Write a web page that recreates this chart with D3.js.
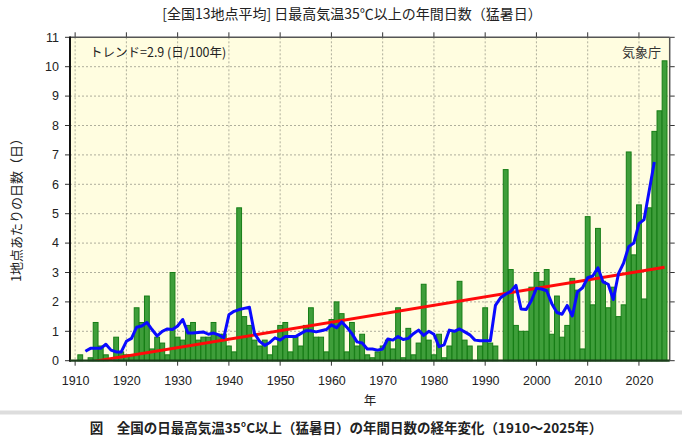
<!DOCTYPE html>
<html lang="ja">
<head>
<meta charset="utf-8">
<script src="https://cdn.jsdelivr.net/npm/d3@7"></script>
<style>
  body { margin: 0; background: #fff; }
  svg { display: block; }
</style>
</head>
<body>
<div id="chart"></div>
<script>
/* Annual number of days with max temperature >= 35C, 13-station average */
const firstYear = 1910;
const days = [
  0, 0.2, 0, 0.1, 1.3, 0.5, 0.2, 0, 0.8, 0.3,
  0.2, 0.2, 1.8, 1.3, 2.2, 0.4, 0.8, 0.6, 0.2, 3.0,
  0.8, 0.7, 1.2, 1.3, 0.7, 0.8, 0.8, 1.3, 0.9, 0.9,
  0.5, 0.3, 5.2, 1.5, 1.2, 0.7, 0.5, 0.7, 0.2, 0.5,
  1.2, 1.3, 0.3, 0.8, 0.5, 1.2, 1.8, 0.8, 0.8, 0.3,
  1.4, 2.0, 1.6, 0.3, 1.3, 0.5, 0.9, 0.2, 0.1, 0.3,
  0.5, 0.7, 0.4, 1.8, 0.1, 1.1, 0.2, 0.6, 2.6, 0.7,
  0.2, 0.9, 0.1, 0.5, 1.0, 2.7, 0.7, 0.5, 0, 0.5,
  1.8, 0.6, 0.5, 0, 6.5, 3.1, 1.2, 1.0, 1.0, 2.5,
  3.0, 2.7, 3.1, 0.9, 2.2, 0.8, 1.2, 2.8, 2.4, 0.4,
  4.9, 1.9, 4.5, 2.7, 1.8, 2.5, 1.5, 1.9, 7.1, 3.6,
  5.3, 2.1, 5.2, 7.8, 8.5, 10.2
];

// 5-year running mean (blue line), 1912-2023
const meanFirstYear = 1912;
const runningMean = [
  0.32, 0.42, 0.42, 0.42, 0.56, 0.36, 0.30, 0.30,
  0.66, 0.76, 1.14, 1.18, 1.30, 1.06, 0.84, 1.00, 1.08, 1.06,
  1.18, 1.40, 0.94, 0.94, 0.96, 0.98, 0.90, 0.94, 0.88, 0.78,
  1.56, 1.68, 1.74, 1.78, 1.82, 0.92, 0.66, 0.52, 0.62, 0.78,
  0.70, 0.82, 0.82, 0.82, 0.92, 1.02, 1.02, 0.98, 1.02, 1.06,
  1.22, 1.12, 1.32, 1.14, 0.92, 0.64, 0.60, 0.40, 0.40, 0.36,
  0.40, 0.74, 0.70, 0.82, 0.72, 0.76, 0.92, 1.04, 0.86, 1.00,
  0.90, 0.48, 0.54, 1.04, 1.00, 1.08, 0.98, 0.88, 0.70, 0.68,
  0.68, 0.68, 1.88, 2.14, 2.26, 2.36, 2.56, 1.76, 1.74, 2.04,
  2.46, 2.44, 2.38, 1.94, 1.64, 1.58, 1.88, 1.52, 2.34, 2.48,
  2.82, 2.88, 3.16, 2.68, 2.60, 2.08, 2.96, 3.32, 3.88, 4.00,
  4.66, 4.80, 5.78, 6.76
];

// Linear trend (red line) end points
const trendYears = [1910, 2025];
const trendValues = [-0.13, 3.18];

const xTicks = [1910, 1920, 1930, 1940, 1950, 1960, 1970, 1980, 1990, 2000, 2010, 2020];
const yTicks = [0, 1, 2, 3, 4, 5, 6, 7, 8, 9, 10, 11];

const title = "[全国13地点平均] 日最高気温35℃以上の年間日数（猛暑日）";
const trendLabel = "トレンド=2.9 (日/100年)";
const sourceLabel = "気象庁";
const xLabel = "年";
const yLabel = "1地点あたりの日数（日）";
const caption = "図　全国の日最高気温35°C以上（猛暑日）の年間日数の経年変化（1910～2025年）";

/* Set the dimensions and margins */
const width = 682, height = 444;
const margins = {top: 37.3, right: 12.3, bottom: 83.3, left: 70};
const jp = "'Noto Sans CJK JP', 'Noto Sans', sans-serif";
const num = "'Liberation Sans', Arial, sans-serif";

const svg = d3.select("#chart")
  .append("svg")
    .attr("width", width)
    .attr("height", height)
    .attr("viewBox", [0, 0, width, height]);

const xScale = d3.scaleLinear()
  .domain([1909, 2026])
  .range([margins.left, width - margins.right]);

const yScale = d3.scaleLinear()
  .domain([0, 11])
  .range([height - margins.bottom, margins.top]);

const x0 = xScale.range()[0], x1 = xScale.range()[1];
const y0 = yScale.range()[0], y1 = yScale.range()[1];

// plot background
svg.append("rect")
  .attr("x", x0).attr("y", y1)
  .attr("width", x1 - x0).attr("height", y0 - y1)
  .attr("fill", "#fffde0");

svg.append("clipPath").attr("id", "plot-clip")
  .append("rect")
    .attr("x", x0).attr("y", y1)
    .attr("width", x1 - x0).attr("height", y0 - y1);

/* Grid lines */
const grid = svg.append("g")
  .attr("stroke", "#9a9a8a")
  .attr("stroke-width", 0.8)
  .attr("stroke-dasharray", "2,2");

grid.selectAll(".gy")
  .data(yTicks.slice(1, -1))
  .join("line")
    .attr("x1", x0).attr("x2", x1)
    .attr("y1", d => yScale(d)).attr("y2", d => yScale(d));

grid.selectAll(".gx")
  .data(xTicks)
  .join("line")
    .attr("x1", d => xScale(d)).attr("x2", d => xScale(d))
    .attr("y1", y1).attr("y2", y0);

/* Bars */
const bw = xScale(1910.47) - xScale(1910);
svg.append("g")
  .attr("class", "bars")
  .selectAll("rect")
  .data(days.map((v, i) => ({year: firstYear + i, value: v})).filter(d => d.value > 0))
  .join("rect")
    .attr("x", d => xScale(d.year) - bw)
    .attr("y", d => yScale(d.value))
    .attr("width", bw * 2)
    .attr("height", d => yScale(0) - yScale(d.value))
    .attr("fill", "#3e9e3a")
    .attr("stroke", "#167d16")
    .attr("stroke-width", 1);

/* Trend and running mean */
const line = d3.line()
  .x(d => xScale(d[0]))
  .y(d => yScale(d[1]));

svg.append("path")
  .attr("clip-path", "url(#plot-clip)")
  .attr("d", line(trendYears.map((y, i) => [y, trendValues[i]])))
  .attr("fill", "none")
  .attr("stroke", "#ff0a0a")
  .attr("stroke-width", 3);

svg.append("path")
  .attr("d", line(runningMean.map((v, i) => [meanFirstYear + i, v])))
  .attr("fill", "none")
  .attr("stroke", "#0a0aff")
  .attr("stroke-width", 3)
  .attr("stroke-linejoin", "round");

/* Axes: outward ticks on all four sides */
const tickLen = 5;
const ticks = svg.append("g").attr("stroke", "#333").attr("stroke-width", 1);
ticks.selectAll(".tt").data(xTicks).join("line")
  .attr("x1", d => xScale(d)).attr("x2", d => xScale(d))
  .attr("y1", y1).attr("y2", y1 - tickLen);
ticks.selectAll(".tb").data(xTicks).join("line")
  .attr("x1", d => xScale(d)).attr("x2", d => xScale(d))
  .attr("y1", y0).attr("y2", y0 + tickLen);
ticks.selectAll(".tl").data(yTicks).join("line")
  .attr("x1", x0).attr("x2", x0 - tickLen)
  .attr("y1", d => yScale(d)).attr("y2", d => yScale(d));
ticks.selectAll(".tr").data(yTicks).join("line")
  .attr("x1", x1).attr("x2", x1 + tickLen)
  .attr("y1", d => yScale(d)).attr("y2", d => yScale(d));

// frame
svg.append("line").attr("x1", x0).attr("x2", x1).attr("y1", y1).attr("y2", y1)
  .attr("stroke", "#555").attr("stroke-width", 1.5);
svg.append("line").attr("x1", x1).attr("x2", x1).attr("y1", y1).attr("y2", y0)
  .attr("stroke", "#555").attr("stroke-width", 1.5);
svg.append("line").attr("x1", x0).attr("x2", x0).attr("y1", y1 - 0.7).attr("y2", y0 + 1)
  .attr("stroke", "#111").attr("stroke-width", 2);
svg.append("line").attr("x1", x0).attr("x2", x1).attr("y1", y0).attr("y2", y0)
  .attr("stroke", "#1b3d1b").attr("stroke-width", 2.2);

// tick labels
svg.append("g")
  .selectAll("text")
  .data(yTicks)
  .join("text")
    .attr("x", x0 - 11)
    .attr("y", d => yScale(d) + 4.3)
    .attr("text-anchor", "end")
    .attr("font-family", num)
    .attr("font-size", 12.5)
    .attr("fill", "#222")
    .text(d => d);

svg.append("g")
  .selectAll("text")
  .data(xTicks)
  .join("text")
    .attr("x", d => xScale(d) + 0.5)
    .attr("y", 385)
    .attr("text-anchor", "middle")
    .attr("font-family", num)
    .attr("font-size", 12.5)
    .attr("fill", "#222")
    .text(d => d);

/* Titles and labels */
svg.append("text")
  .attr("x", 352).attr("y", 19)
  .attr("text-anchor", "middle")
  .attr("font-family", jp).attr("font-size", 14)
  .attr("fill", "#222")
  .text(title);

svg.append("text")
  .attr("x", 370).attr("y", 405)
  .attr("text-anchor", "middle")
  .attr("font-family", jp).attr("font-size", 12.5)
  .attr("fill", "#222")
  .text(xLabel);

svg.append("text")
  .attr("transform", "translate(21,207) rotate(-90)")
  .attr("text-anchor", "middle")
  .attr("font-family", jp).attr("font-size", 13)
  .attr("fill", "#222")
  .text(yLabel);

svg.append("text")
  .attr("x", 90).attr("y", 57)
  .attr("font-family", jp).attr("font-size", 12.5)
  .attr("fill", "#222")
  .text(trendLabel);

svg.append("text")
  .attr("x", 661).attr("y", 57)
  .attr("text-anchor", "end")
  .attr("font-family", jp).attr("font-size", 13)
  .attr("fill", "#333")
  .text(sourceLabel);

// separator and caption
svg.append("rect")
  .attr("x", 0).attr("y", 410.5)
  .attr("width", width).attr("height", 4)
  .attr("fill", "#dddddd");

svg.append("text")
  .attr("x", 346).attr("y", 433)
  .attr("text-anchor", "middle")
  .attr("font-family", jp).attr("font-size", 13.5)
  .attr("font-weight", "bold")
  .attr("fill", "#222")
  .text(caption);
</script>
</body>
</html>
